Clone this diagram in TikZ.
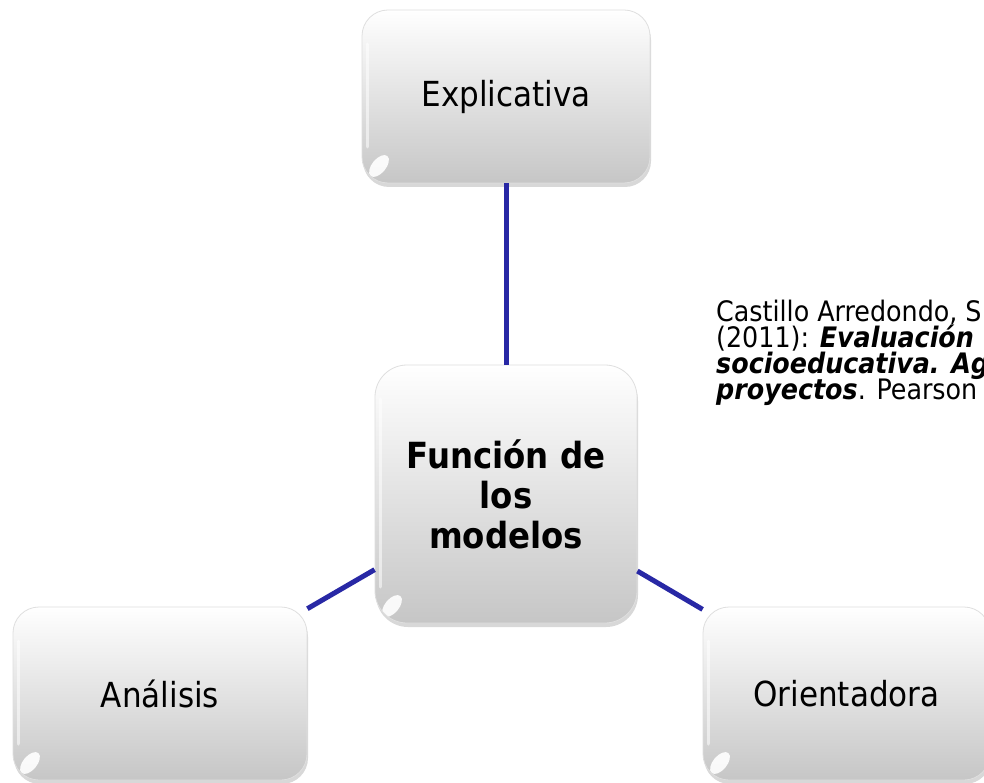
\documentclass[tikz,border=0pt]{standalone}
\usepackage{fontspec}
\setmainfont{DejaVu Sans Condensed}
\usetikzlibrary{shadows,calc}
\definecolor{linkblue}{RGB}{40,40,165}
\definecolor{boxbottom}{RGB}{198,198,198}
\begin{document}
\begin{tikzpicture}[x=1pt,y=-1pt,
  box/.style={rounded corners=26pt, top color=white, bottom color=boxbottom,
    draw=gray!25, line width=0.8pt,
    drop shadow={shadow xshift=1pt, shadow yshift=-4pt, opacity=0.3, fill=gray},
    inner sep=0pt, align=center, font=\fontsize{34.5}{40}\selectfont,
    path picture={
      \draw[white,opacity=0.55,line width=3pt,line cap=round] ($(path picture bounding box.north west)+(5.5pt,-34pt)$) -- ($(path picture bounding box.south west)+(5.5pt,36pt)$);
      \fill[white,opacity=0.9] ($(path picture bounding box.south west)+(17pt,17pt)$) ellipse [x radius=7pt, y radius=13pt, rotate=-40];}},
  link/.style={draw=linkblue, line width=5pt},
  cite/.style={anchor=base west, inner sep=0pt, font=\fontsize{28.2}{30}\selectfont}]
\clip (0,0) rectangle (984,783);
\fill[white] (0,0) rectangle (984,783);
\node[box, minimum width=288pt, minimum height=173pt] (expl) at (506,96.5) {Explicativa};
\node[box, rounded corners=32pt, minimum width=262pt, minimum height=258pt,
      font=\bfseries\fontsize{36}{40}\selectfont] (func) at (506,494) {Función de\\los\\modelos};
\node[box, minimum width=294pt, minimum height=173pt] (anal) at (160,693.5) {Análisis};
\node[box, minimum width=287pt, minimum height=173pt] (orie) at (846.5,693.5) {Orientadora};
\draw[link] (expl) -- (func);
\draw[link] (func) -- (anal);
\draw[link] (func) -- (orie);
\node[cite] (cit1) at (716,321) {Castillo Arredondo, S};
\node[cite] (cit2) at (716,347) {(2011): \textbf{\textit{Evaluación}}};
\node[cite] (cit3) at (716,373) {\textbf{\textit{socioeducativa. Ag}}};
\node[cite] (cit4) at (716,399) {\textbf{\textit{proyectos}}. Pearson};
\end{tikzpicture}
\end{document}
